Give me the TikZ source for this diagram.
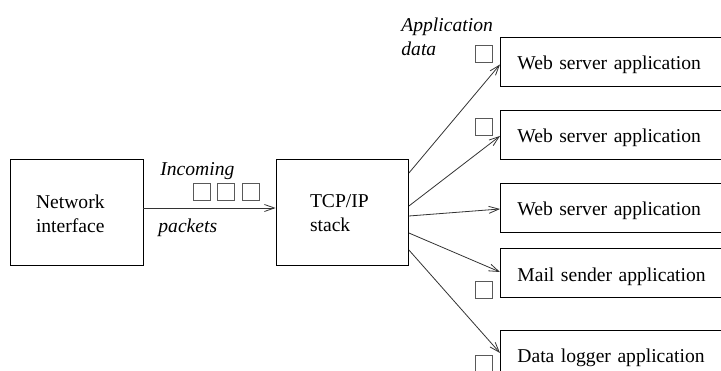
\documentclass[tikz,border=0pt]{standalone}
\usepackage{fontspec}
\setmainfont{Liberation Serif}
\usetikzlibrary{arrows.meta}

\tikzset{
  txt/.style={font=\fontsize{19.6}{24.5}\selectfont},
  emtxt/.style={font=\fontsize{19.6}{24.5}\selectfont\itshape, anchor=west, inner sep=0pt},
  pkt/.style={draw=black!65, line width=.8pt, minimum size=17pt, inner sep=0pt},
}

\begin{document}
\begin{tikzpicture}[x=1pt, y=-1pt, line width=.8pt]

      \useasboundingbox (0,0) rectangle (721,371);

      \begin{scope}[every node/.style={draw, txt, align=left, minimum height=106pt}]
        \node[inner xsep=26pt, text width=81pt, text height=17pt]   (net) at (76.5,212)   {Network\\interface};
        \node[inner xsep=34pt, text width=64.5pt, text height=15pt] (tcp) at (342.25,212) {TCP/IP\\stack};
      \end{scope}

      \begin{scope}[every node/.style={draw, txt, anchor=west, align=left,
          inner xsep=17pt, text width=210pt, text height=17pt, text depth=0pt,
          minimum height=49pt}]
        \node (a1) at (500,61.5)  {Web server application};
        \node (a2) at (500,134.5) {Web server application};
        \node (a3) at (500,207.5) {Web server application};
        \node (a4) at (500,273)   {Mail sender application};
        \node (a5) at (500,354.5) {Data logger application};
      \end{scope}

      % packets on the way in
      \node[pkt] (p1) at (201.7,191.7) {};
      \node[pkt] (p2) at (226.3,191.7) {};
      \node[pkt] (p3) at (251.2,191.7) {};

      % application data
      \node[pkt] (d1) at (484,54)    {};
      \node[pkt] (d2) at (484,126.5) {};
      \node[pkt] (d4) at (484,289.5) {};
      \node[pkt] (d5) at (484,363.5) {};

      \node[emtxt] (inc) at (160,171) {Incoming};
      \node[emtxt] (pkts) at (158,228) {packets};
      \node[emtxt, align=left] (appd) at (401,37) {Application\\data};

      \begin{scope}[every edge/.style={draw, black!80, -{Straight Barb[length=10pt,width=7pt]}}]
        \path ([yshift=4pt]net.east)   edge ([yshift=4pt]tcp.west);
        \path ([yshift=39pt]tcp.east)  edge ([yshift=-3pt]a1.west);
        \path ([yshift=6pt]tcp.east)   edge ([yshift=-1.5pt]a2.west);
        \path ([yshift=-4pt]tcp.east)  edge ([yshift=-1.5pt]a3.west);
        \path ([yshift=-21pt]tcp.east) edge ([yshift=1pt]a4.west);
        \path ([yshift=-38pt]tcp.east) edge ([yshift=1.5pt]a5.west);
      \end{scope}

    \end{tikzpicture}
\end{document}
